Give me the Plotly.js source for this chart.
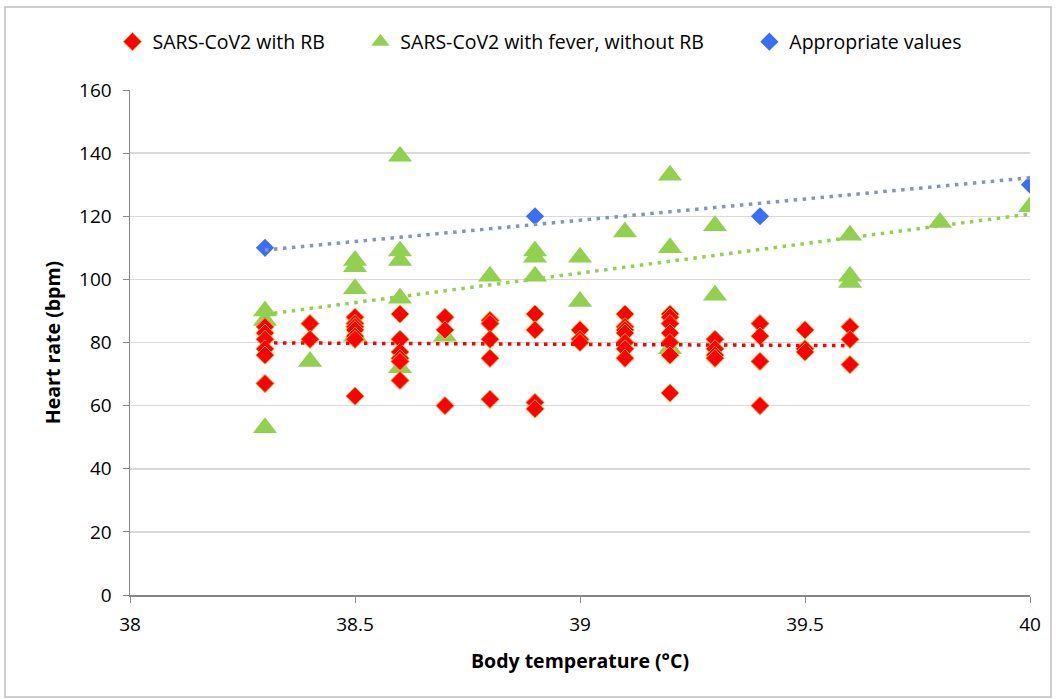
<!DOCTYPE html>
<html>
<head>
<meta charset="utf-8">
<script src="https://cdn.plot.ly/plotly-3.0.1.min.js"></script>
<style>html,body{margin:0;padding:0;background:#fff;}#chart{width:1056px;height:699px;}</style>
</head>
<body>
<div id="chart"></div>
<script>
// Series: SARS-CoV2 with RB
const redTemp = [38.3,38.3,38.3,38.3,38.3,38.3, 38.4,38.4, 38.5,38.5,38.5,38.5,38.5,38.5,38.5,
  38.6,38.6,38.6,38.6,38.6,38.6, 38.7,38.7,38.7, 38.8,38.8,38.8,38.8,38.8, 38.9,38.9,38.9,38.9,
  39.0,39.0,39.0, 39.1,39.1,39.1,39.1,39.1,39.1,39.1, 39.2,39.2,39.2,39.2,39.2,39.2,39.2,
  39.3,39.3,39.3,39.3, 39.4,39.4,39.4,39.4, 39.5,39.5,39.5, 39.6,39.6,39.6];
const redHR = [85,83,81,78,76,67, 86,81, 88,86,85,84,82,81,63,
  89,81,77,75,74,68, 88,84,60, 87,86,81,75,62, 89,84,61,59,
  84,81,80, 89,85,84,83,80,78,75, 89,88,86,83,80,76,64,
  81,78,76,75, 86,82,74,60, 84,78,77, 85,81,73];

// Series: SARS-CoV2 with fever, without RB
const greenTemp = [38.3,38.3,38.3, 38.4, 38.5,38.5,38.5,38.5, 38.6,38.6,38.6,38.6,38.6, 38.7, 38.8,
  38.9,38.9,38.9, 39.0,39.0, 39.1, 39.2,39.2,39.2, 39.3,39.3, 39.6,39.6,39.6, 39.8, 40.0];
const greenHR = [90,87,53, 74, 106,104,97,82, 139,109,106,94,72, 82, 101,
  109,107,101, 107,93, 115, 133,110,78, 117,95, 114,101,99, 118, 123];

// Series: Appropriate values
const blueTemp = [38.3, 38.9, 39.4, 40.0];
const blueHR = [110, 120, 120, 130];

// Trendlines (end points)
const redTrendTemp = [38.3, 39.6];
const redTrendHR = [79.9, 79.0];
const greenTrendTemp = [38.3, 40.0];
const greenTrendHR = [88.9, 120.7];
const blueTrendTemp = [38.3, 40.0];
const blueTrendHR = [109.3, 132.2];

const seriesNames = ['SARS-CoV2 with RB', 'SARS-CoV2 with fever, without RB', 'Appropriate values'];
const xTicks = [38, 38.5, 39, 39.5, 40];
const xTickText = ['38', '38.5', '39', '39.5', '40'];
const yTicks = [0, 20, 40, 60, 80, 100, 120, 140, 160];

const FONT = 'Open Sans, Lato, sans-serif';
const dotDash = '3.5px,5.5px';
const pad = n => '\u00a0'.repeat(n);

const traces = [
  {x: greenTemp, y: greenHR, type: 'scatter', mode: 'markers', name: seriesNames[1] + pad(8),
   legendrank: 2, marker: {symbol: 'triangle-up', size: 21, color: '#92D050', line: {width: 0}}},
  {x: redTemp, y: redHR, type: 'scatter', mode: 'markers', name: seriesNames[0] + pad(6),
   legendrank: 1, marker: {symbol: 'diamond', size: 14, color: '#FF0000', line: {width: 1, color: '#F7A32A'}}},
  {x: blueTemp, y: blueHR, type: 'scatter', mode: 'markers', name: seriesNames[2],
   legendrank: 3, marker: {symbol: 'diamond', size: 14, color: '#3A6EF5', line: {width: 0}}},
  {x: redTrendTemp, y: redTrendHR, type: 'scatter', mode: 'lines', showlegend: false, hoverinfo: 'skip',
   line: {color: '#FF0000', width: 3.5, dash: dotDash}},
  {x: greenTrendTemp, y: greenTrendHR, type: 'scatter', mode: 'lines', showlegend: false, hoverinfo: 'skip',
   line: {color: '#92D050', width: 3.5, dash: dotDash}},
  {x: blueTrendTemp, y: blueTrendHR, type: 'scatter', mode: 'lines', showlegend: false, hoverinfo: 'skip',
   line: {color: '#8497B0', width: 3.5, dash: dotDash}}
];

const layout = {
  width: 1056, height: 699,
  margin: {l: 130, r: 26, t: 90, b: 104},
  paper_bgcolor: '#ffffff', plot_bgcolor: '#ffffff',
  font: {family: FONT, size: 19, color: '#000000'},
  showlegend: true,
  legend: {orientation: 'h', x: -0.0195, xanchor: 'left', y: 1.095, yanchor: 'middle',
           font: {family: FONT, size: 19.5, color: '#000'}, itemwidth: 30, tracegroupgap: 0},
  xaxis: {
    range: [38, 40], tickvals: xTicks, ticktext: xTickText,
    showgrid: false, zeroline: false,
    showline: true, linecolor: '#868686', linewidth: 1.5,
    ticks: 'outside', ticklen: 6, tickcolor: '#868686', ticklabelstandoff: 6,
    tickfont: {family: FONT, size: 19, color: '#000'},
    title: {text: '<b>Body temperature (°C)</b>', font: {family: FONT, size: 19.5, color: '#000'}, standoff: 18}
  },
  yaxis: {
    range: [0, 160], tickvals: yTicks,
    showgrid: true, gridcolor: '#D9D9D9', gridwidth: 1.5, zeroline: false,
    showline: true, linecolor: '#868686', linewidth: 1.5,
    ticks: 'outside', ticklen: 6, tickcolor: '#868686', ticklabelstandoff: 7,
    tickfont: {family: FONT, size: 19, color: '#000'},
    title: {text: '<b>Heart rate (bpm)</b>', font: {family: FONT, size: 19.5, color: '#000'}, standoff: 13}
  },
  shapes: [{type: 'rect', xref: 'paper', yref: 'paper',
            x0: (5 - 130) / 900, x1: (1051 - 130) / 900, y0: (595 - 697) / 505, y1: (595 - 7) / 505,
            line: {color: '#BFBFBF', width: 1.5}, fillcolor: 'rgba(0,0,0,0)', layer: 'below'}]
};

Plotly.newPlot('chart', traces, layout, {displayModeBar: false, staticPlot: true});
</script>
</body>
</html>
